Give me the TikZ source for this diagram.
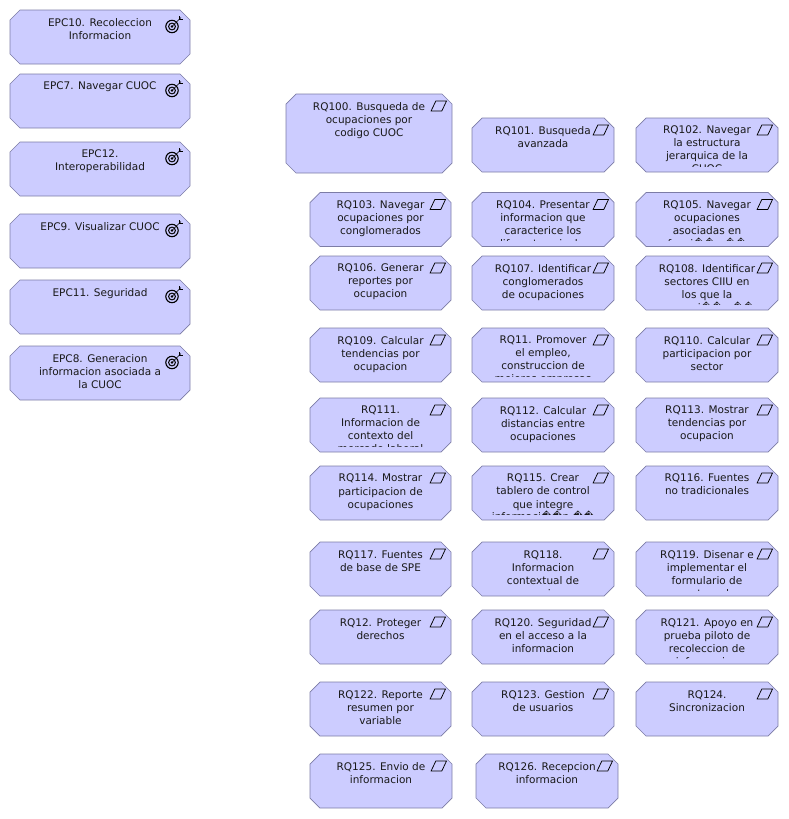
\documentclass[tikz,border=0pt]{standalone}
\usepackage{fontspec}
\setmainfont{DejaVu Sans}
\definecolor{boxblue}{HTML}{CCCCFF}
\definecolor{boxline}{HTML}{7C7CA6}
\begin{document}
\begin{tikzpicture}[x=1pt, y=-1pt,
    archbox/.style={draw=boxline, fill=boxblue, line width=0.7pt},
    boxtext/.style={anchor=north, align=center, inner sep=0pt, text=black!90,
                    font=\fontsize{10.5}{13}\selectfont},
    goalicon/.pic={
        \draw[line width=1.1pt] (0,0) circle (6.2);
        \draw[line width=1pt] (0,0) circle (3.4);
        \fill (0,0) circle (1.4);
        \draw[line width=0.6pt] (0,0) -- (9,-9);
        \draw[line width=0.6pt] (7,-10.5) -- (7,-7) -- (10.5,-7);
    },
    reqicon/.pic={
        \draw[line width=0.75pt] (-7.7,5) -- (3,5) -- (7.7,-5) -- (-3,-5) -- cycle;
    },
]
    \useasboundingbox (0,0) rectangle (788,819);

    % Goals
    \foreach \id/\y/\txt in {
        10/10/{EPC10. Recoleccion\\Informacion},
        7/74/{EPC7. Navegar CUOC},
        12/142/{EPC12.\\Interoperabilidad},
        9/214/{EPC9. Visualizar CUOC},
        11/280/{EPC11. Seguridad},
        8/346/{EPC8. Generacion\\informacion asociada a\\la CUOC}} {
        \filldraw[archbox] (20,\y) -- (180,\y) -- (190,\y+10) -- (190,\y+44)
            -- (180,\y+54) -- (20,\y+54) -- (10,\y+44) -- (10,\y+10) -- cycle;
        \node[boxtext] (epc\id) at (100,{\y+8}) {\txt};
        \pic at (172,{\y+16.5}) {goalicon};
    }

    % Requirements
    \foreach \id/\x/\y/\w/\h/\txt in {
        100/286/94/166/79/{RQ100. Busqueda de\\ocupaciones por\\codigo CUOC},
        101/472/118/142/54/{RQ101. Busqueda\\avanzada},
        102/636/118/142/54/{RQ102. Navegar\\la estructura\\jerarquica de la\\CUOC},
        103/310/192.5/141/54/{RQ103. Navegar\\ocupaciones por\\conglomerados},
        104/472/192.5/142/54/{RQ104. Presentar\\informacion que\\caracterice los\\diferentes niveles},
        105/636/192.5/142/54/{RQ105. Navegar\\ocupaciones\\asociadas en\\funci��n ��},
        106/310/256/141/54/{RQ106. Generar\\reportes por\\ocupacion},
        107/472/256/142/54/{RQ107. Identificar\\conglomerados\\de ocupaciones},
        108/636/256/142/54/{RQ108. Identificar\\sectores CIIU en\\los que la\\ocupaci��n ��},
        109/310/328/141/54/{RQ109. Calcular\\tendencias por\\ocupacion},
        11/472/328/142/54/{RQ11. Promover\\el empleo,\\construccion de\\mejores empresas},
        110/636/328/142/54/{RQ110. Calcular\\participacion por\\sector},
        111/310/398/141/54/{RQ111.\\Informacion de\\contexto del\\mercado laboral},
        112/472/398/142/54/{RQ112. Calcular\\distancias entre\\ocupaciones},
        113/636/398/142/54/{RQ113. Mostrar\\tendencias por\\ocupacion},
        114/310/466/141/54/{RQ114. Mostrar\\participacion de\\ocupaciones},
        115/472/466/142/54/{RQ115. Crear\\tablero de control\\que integre\\informaci��n ��},
        116/636/466/142/54/{RQ116. Fuentes\\no tradicionales},
        117/310/542/141/54/{RQ117. Fuentes\\de base de SPE},
        118/472/542/142/54/{RQ118.\\Informacion\\contextual de\\ocupaciones},
        119/636/542/142/54/{RQ119. Disenar e\\implementar el\\formulario de\\captura de},
        12/310/610/141/54/{RQ12. Proteger\\derechos},
        120/472/610/142/54/{RQ120. Seguridad\\en el acceso a la\\informacion},
        121/636/610/142/54/{RQ121. Apoyo en\\prueba piloto de\\recoleccion de\\informacion},
        122/310/682/141/54/{RQ122. Reporte\\resumen por\\variable},
        123/472/682/142/54/{RQ123. Gestion\\de usuarios},
        124/636/682/142/54/{RQ124.\\Sincronizacion},
        125/310/754/142/54/{RQ125. Envio de\\informacion},
        126/476/754/142/54/{RQ126. Recepcion\\informacion}} {
        \filldraw[archbox] (\x+10,\y) -- (\x+\w-10,\y) -- (\x+\w,\y+10) -- (\x+\w,\y+\h-10)
            -- (\x+\w-10,\y+\h) -- (\x+10,\y+\h) -- (\x,\y+\h-10) -- (\x,\y+10) -- cycle;
        \begin{scope}
            \clip (\x,\y) rectangle ({\x+\w},{\y+\h-6});
            \node[boxtext] (rq\id) at ({\x+\w/2},{\y+8}) {\txt};
        \end{scope}
        \pic at ({\x+\w-13.2},{\y+12}) {reqicon};
    }
\end{tikzpicture}
\end{document}
